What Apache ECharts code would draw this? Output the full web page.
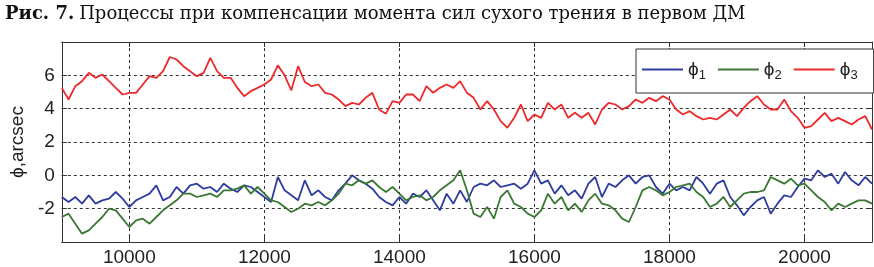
<!DOCTYPE html>
<html>
<head>
<meta charset="utf-8">
<script src="https://cdn.jsdelivr.net/npm/echarts@6/dist/echarts.min.js"></script>
<style>
	html, body { margin: 0; padding: 0; background: #fff; }
	#chart { width: 874px; height: 267px; }
</style>
</head>
<body>
<div id="chart"></div>
<script>
	// time axis: samples every 100 from 9000 to 21000
	var xStart = 9000
	var xStep = 100
	var xTicks = [10000, 12000, 14000, 16000, 18000, 20000]

	/*phi1 - blue*/
	var phi1 = [
		-1.3, -1.6, -1.3, -1.7, -1.2, -1.7, -1.5, -1.4, -1.0, -1.4, -1.9, -1.5, -1.3, -1.1, -0.6, -1.5, -1.3, -0.7, -1.1, -0.6, -0.5, -0.8, -0.7, -1.0, -0.5,
		-0.8, -1.0, -0.6, -0.7, -1.0, -1.3, -1.6, -0.1, -0.9, -1.2, -1.5, -0.3, -1.2, -0.9, -1.3, -1.5, -0.9, -0.5, 0.0, -0.3, -0.5, -0.8, -1.3, -1.6,
		-1.8, -1.3, -1.7, -1.1, -1.3, -0.9, -1.5, -2.1, -1.1, -1.7, -0.9, -1.6, -0.7, -0.5, -0.6, -0.3, -0.7, -0.6, -0.5, -0.8, -0.5, 0.3, -0.5, -0.3,
		-1.1, -0.6, -1.2, -0.9, -1.4, -0.5, -0.1, -1.3, -0.5, -0.7, -0.3, 0.0, -0.5, -0.1, 0.0, -0.7, -1.1, -0.5, -0.9, -0.7, -0.9, -0.1, -0.5, -1.1,
		-0.5, -0.3, -1.3, -1.8, -2.4, -1.9, -1.5, -1.3, -2.3, -1.7, -1.2, -1.3, -0.7, -0.2, -0.3, 0.3, -0.1, 0.1, -0.5, 0.2, -0.3, -0.6, -0.1, -0.5
	]
	/*phi2 - green*/
	var phi2 = [
		-2.5, -2.3, -2.9, -3.5, -3.3, -2.9, -2.5, -2.0, -2.1, -2.6, -3.1, -2.7, -2.6, -2.9, -2.5, -2.1, -1.8, -1.5, -1.1, -1.1, -1.3, -1.2, -1.1, -1.3, -0.9,
		-0.9, -0.8, -0.6, -1.1, -0.7, -1.1, -1.5, -1.6, -1.9, -2.2, -2.0, -1.7, -1.8, -1.6, -1.8, -1.5, -1.1, -0.5, -0.6, -0.3, -0.5, -0.3, -0.7, -1.0,
		-0.7, -1.1, -1.5, -1.3, -1.2, -1.5, -1.3, -0.9, -0.6, -0.3, 0.3, -0.9, -2.3, -2.5, -1.9, -2.6, -1.3, -0.9, -1.7, -1.9, -2.3, -2.5, -2.1, -1.1,
		-1.7, -1.3, -2.1, -1.7, -2.2, -1.5, -1.1, -1.7, -1.8, -2.1, -2.6, -2.8, -1.9, -0.9, -0.7, -0.9, -1.2, -1.0, -0.7, -0.6, -0.5, -1.0, -1.3, -1.9,
		-1.7, -1.3, -1.9, -1.5, -1.1, -1.0, -1.0, -0.9, -0.1, -0.3, -0.5, -0.2, -0.6, -0.5, -0.9, -1.3, -1.6, -2.1, -1.7, -1.9, -1.7, -1.5, -1.5, -1.7
	]
	/*phi3 - red*/
	var phi3 = [
		5.25, 4.55, 5.35, 5.65, 6.15, 5.85, 6.05, 5.65, 5.25, 4.85, 4.95, 4.95, 5.45, 5.95, 5.85, 6.25, 7.1, 6.95, 6.55, 6.25, 5.95, 6.15, 7.05, 6.25, 5.85,
		5.85, 5.25, 4.75, 5.05, 5.25, 5.45, 5.75, 6.6, 6.0, 5.1, 6.55, 5.6, 5.35, 5.45, 4.95, 4.85, 4.55, 4.15, 4.35, 4.25, 4.65, 4.95, 3.95, 3.7,
		4.45, 4.35, 4.85, 4.85, 4.45, 5.35, 4.95, 5.25, 5.45, 5.25, 5.65, 4.95, 4.65, 3.95, 4.45, 3.95, 3.25, 2.85, 3.45, 4.25, 3.25, 3.65, 3.45, 4.35,
		3.95, 4.25, 3.45, 3.75, 3.45, 3.75, 3.05, 3.95, 4.35, 4.25, 3.95, 4.15, 4.55, 4.35, 4.65, 4.45, 4.75, 4.55, 3.95, 3.65, 3.85, 3.55, 3.35, 3.45,
		3.35, 3.65, 3.95, 3.55, 4.05, 4.45, 4.75, 4.25, 3.95, 3.95, 4.55, 3.85, 3.45, 2.85, 2.95, 3.35, 3.75, 3.25, 3.45, 3.25, 3.05, 3.35, 3.55, 2.75
	]

	var seriesList = [
		{ name: 'ϕ1', data: phi1, color: '#2e3c9e' },
		{ name: 'ϕ2', data: phi2, color: '#3a7834' },
		{ name: 'ϕ3', data: phi3, color: '#ec2a2c' }
	]

	function toPairs(arr) {
		return arr.map(function (v, i) { return [xStart + i * xStep, v] })
	}

	var fontSans = '"Liberation Sans", Arial, sans-serif'
	var fontSerif = '"DejaVu Serif", serif'
	var axisColor = '#333'
	var gridLine = { show: true, lineStyle: { color: '#333', type: [3, 3], width: 1 } }

	var chart = echarts.init(document.getElementById('chart'))
	chart.setOption({
		animation: false,
		backgroundColor: '#fff',
		title: {
			left: 0,
			top: 0,
			text: '{b|Рис. 7.} {r|Процессы при компенсации момента сил сухого трения в первом ДМ}',
			textStyle: {
				fontWeight: 'normal',
				rich: {
					b: { fontFamily: fontSerif, fontWeight: 'bold', fontSize: 18, color: '#111' },
					r: { fontFamily: fontSerif, fontWeight: 'normal', fontSize: 18, color: '#111' }
				}
			}
		},
		legend: {
			data: seriesList.map(function (s) { return { name: s.name, icon: 'rect' } }),
			left: 636,
			top: 49,
			itemWidth: 41,
			itemHeight: 2,
			itemGap: 12,
			padding: [11, 16, 11, 6],
			borderColor: axisColor,
			borderWidth: 1,
			backgroundColor: '#fff',
			formatter: function (name) {
				return '{p|ϕ}{s|' + name.slice(1) + '}'
			},
			textStyle: {
				rich: {
					p: { fontFamily: fontSans, fontSize: 19, color: '#222' },
					s: { fontFamily: fontSans, fontSize: 13, color: '#222', padding: [12, 0, 0, 0] }
				}
			}
		},
		grid: { left: 57, right: 2, top: 42, bottom: 22, show: false },
		xAxis: [{
			type: 'value',
			min: 9000,
			max: 21000,
			axisLine: { show: true, onZero: false, lineStyle: { color: axisColor } },
			axisTick: { show: true, inside: true, length: 5, customValues: xTicks, lineStyle: { color: axisColor } },
			axisLabel: {
				customValues: xTicks, margin: 6, fontFamily: fontSans, fontSize: 19, color: '#222',
				formatter: function (v) { return String(v) }
			},
			splitLine: gridLine
		}, {
			type: 'value',
			position: 'top',
			min: 9000,
			max: 21000,
			axisLine: { show: true, onZero: false, lineStyle: { color: axisColor } },
			axisTick: { show: true, inside: true, length: 5, customValues: xTicks, lineStyle: { color: axisColor } },
			axisLabel: { show: false },
			splitLine: { show: false }
		}],
		yAxis: [{
			type: 'value',
			min: -4,
			max: 8,
			interval: 2,
			name: 'ϕ,arcsec',
			nameLocation: 'middle',
			nameGap: 30,
			nameTextStyle: { fontFamily: fontSans, fontSize: 19, color: '#222' },
			axisLine: { show: true, onZero: false, lineStyle: { color: axisColor } },
			axisTick: { show: true, inside: true, length: 5, lineStyle: { color: axisColor } },
			axisLabel: {
				margin: 7, fontFamily: fontSans, fontSize: 19, color: '#222',
				formatter: function (v) { return (v === -4 || v === 8) ? '' : String(v) }
			},
			splitLine: gridLine
		}, {
			type: 'value',
			position: 'right',
			min: -4,
			max: 8,
			interval: 2,
			axisLine: { show: true, onZero: false, lineStyle: { color: axisColor } },
			axisTick: { show: true, inside: true, length: 5, lineStyle: { color: axisColor } },
			axisLabel: { show: false },
			splitLine: { show: false }
		}],
		series: seriesList.map(function (s) {
			return {
				name: s.name,
				type: 'line',
				data: toPairs(s.data),
				symbol: 'none',
				color: s.color,
				lineStyle: { width: 1.8, color: s.color },
				z: 3
			}
		})
	})
</script>
</body>
</html>
